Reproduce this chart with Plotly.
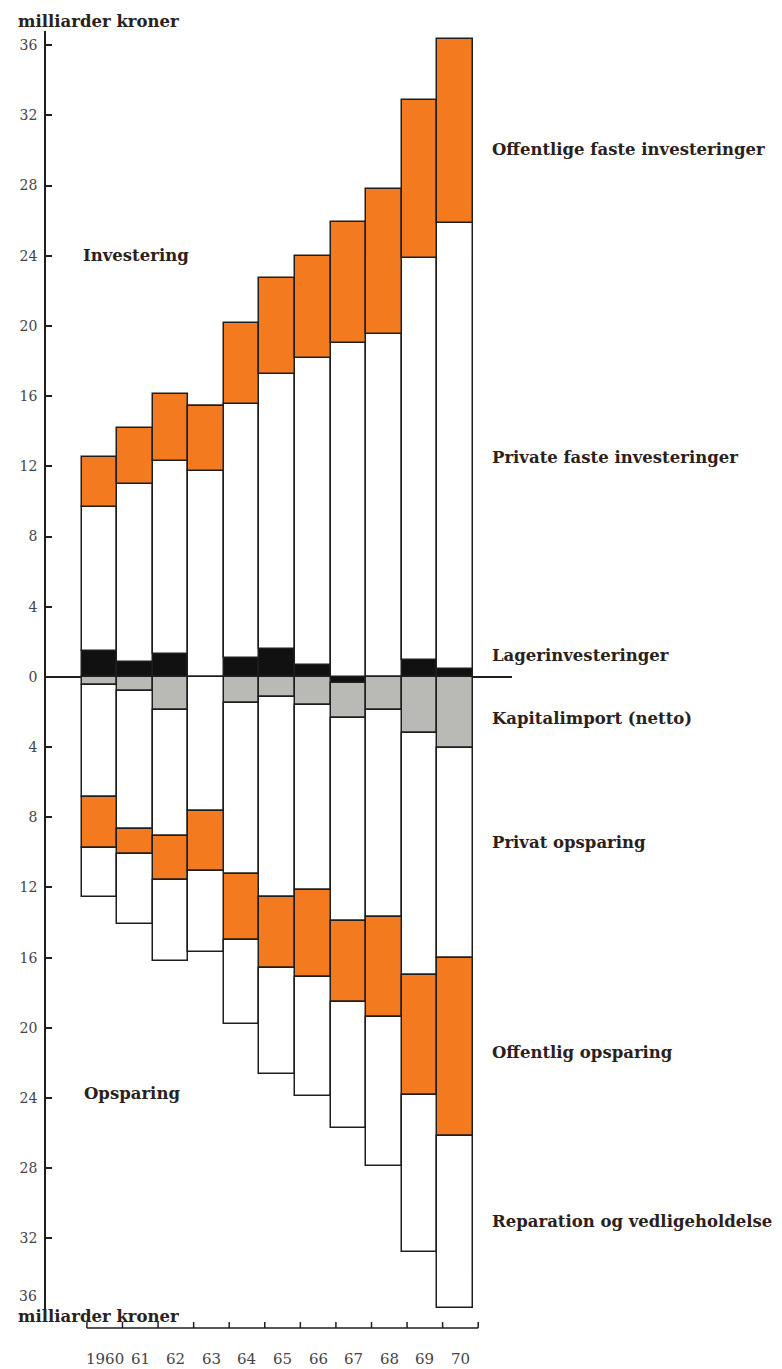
import plotly.graph_objects as go

# Investering og opsparing 1960-70, milliarder kroner
years = list(range(1960, 1971))
year_labels = ["1960", "61", "62", "63", "64", "65", "66", "67", "68", "69", "70"]

# investment side (positive)
lager = [1.5, 0.85, 1.3, 0, 1.1, 1.6, 0.65, -0.35, 0, 0.95, 0.45]
private_faste = [8.2, 10.15, 11.0, 11.75, 14.45, 15.65, 17.5, 19.05, 19.55, 22.9, 25.4]
offentlige_faste = [2.85, 3.2, 3.8, 3.7, 4.6, 5.5, 5.85, 6.85, 8.25, 9.05, 10.5]

# saving side (negative)
kapitalimport = [-0.45, -0.8, -1.9, 0, -1.5, -1.15, -1.6, -2.0, -1.9, -3.2, -4.05]
privat_opsparing = [-6.4, -7.85, -7.15, -7.65, -9.75, -11.4, -10.55, -11.55, -11.8, -13.8, -11.95]
offentlig_opsparing = [-2.9, -1.45, -2.5, -3.4, -3.75, -4.05, -4.95, -4.6, -5.7, -6.85, -10.15]
reparation = [-2.8, -4.0, -4.65, -4.6, -4.8, -6.05, -6.8, -7.2, -8.5, -8.9, -9.8]

y_ticks = list(range(-36, 37, 4))

ORANGE = "#F47A20"
GREY = "#B9B9B5"
BLACK = "#111111"
WHITE = "#FFFFFF"
INK = "#2B211C"
LINE = "#1E1E1E"

# the page body has an 8px margin, so the figure is made 8px smaller
PAGE = 8
W, H = 782 - PAGE, 1369 - PAGE
M_L, M_R, M_T, M_B = 43 - PAGE, 270, 31 - PAGE, 41
PW, PH = W - M_L - M_R, H - M_T - M_B


def px(x, y):
    """pixel position on the page -> paper coords"""
    return (x - PAGE - M_L) / PW, (H - M_B - (y - PAGE)) / PH


series = [
    ("Lagerinvesteringer", lager, BLACK),
    ("Private faste investeringer", private_faste, WHITE),
    ("Offentlige faste investeringer", offentlige_faste, ORANGE),
    ("Kapitalimport (netto)", kapitalimport, GREY),
    ("Privat opsparing", privat_opsparing, WHITE),
    ("Offentlig opsparing", offentlig_opsparing, ORANGE),
    ("Reparation og vedligeholdelse", reparation, WHITE),
]

fig = go.Figure()
for name, vals, col in series:
    fig.add_trace(go.Bar(
        x=years, y=vals, name=name, width=1,
        marker=dict(color=col, line=dict(color=LINE, width=1.5)),
    ))

label_font = dict(family="DejaVu Serif", size=16.5, color=INK, weight="bold")
num_font = dict(family="DejaVu Serif", size=14, color="#444")

# labels to the right of the bars
right_labels = [
    ("Offentlige faste investeringer", 150),
    ("Private faste investeringer", 457),
    ("Lagerinvesteringer", 655),
    ("Kapitalimport (netto)", 719),
    ("Privat opsparing", 843),
    ("Offentlig opsparing", 1052),
    ("Reparation og vedligeholdelse", 1221),
]
annotations = []
for text, ypix in right_labels:
    xp, yp = px(490, ypix)
    annotations.append(dict(x=xp, y=yp, xref="paper", yref="paper", text=text,
                            showarrow=False, xanchor="left", yanchor="middle",
                            font=label_font))

for text, xpix, ypix in [("Investering", 78, 255), ("Opsparing", 79, 1093),
                         ("milliarder kroner", 13, 22), ("milliarder kroner", 13, 1316)]:
    xp, yp = px(xpix, ypix)
    annotations.append(dict(x=xp, y=yp, xref="paper", yref="paper", text=text,
                            showarrow=False, xanchor="left", yanchor="middle",
                            font=label_font))

# bottom "36" sits a little above its tick in the print
xp, yp = px(36, 1296)
annotations.append(dict(x=xp, y=yp, xref="paper", yref="paper", text=str(abs(y_ticks[0])),
                        showarrow=False, xanchor="right", yanchor="middle", font=num_font))

# year axis drawn separately below the chart (slightly offset, as in the print)
off = 0.15
tick_h = 6 / PH
for yr, lab in zip(years, year_labels):
    annotations.append(dict(x=yr + off, y=0, xref="x", yref="paper", text=lab,
                            showarrow=False, yanchor="top", yshift=-20,
                            font=dict(family="DejaVu Serif", size=15, color="#444")))

shapes = [dict(type="line", xref="x", yref="paper",
               x0=years[0] - 0.5 + off, x1=years[-1] + 0.5 + off, y0=0, y1=0,
               line=dict(color=LINE, width=1.5))]
for edge in [y - 0.5 for y in years] + [years[-1] + 0.5]:
    shapes.append(dict(type="line", xref="x", yref="paper",
                       x0=edge + off, x1=edge + off, y0=0, y1=tick_h,
                       line=dict(color=LINE, width=1.5)))

fig.update_layout(
    width=W, height=H,
    margin=dict(l=M_L, r=M_R, t=M_T, b=M_B),
    barmode="relative", bargap=0,
    showlegend=False,
    plot_bgcolor="white", paper_bgcolor="white",
    annotations=annotations, shapes=shapes,
    xaxis=dict(range=[1958.5, 1971.6], visible=False, fixedrange=True),
    yaxis=dict(
        range=[-36.05, 36.81], domain=[14 / PH + 0.0035, 1],
        tickvals=y_ticks,
        ticktext=[""] + [str(abs(v)) for v in y_ticks[1:]],
        ticks="inside", ticklen=6, tickwidth=1.5, tickcolor=LINE,
        showline=True, linecolor=LINE, linewidth=1.5,
        showgrid=False, zeroline=True, zerolinecolor=LINE, zerolinewidth=1.5,
        tickfont=num_font,
        ticklabelstandoff=4,
    ),
)

fig.write_html("out.html")
